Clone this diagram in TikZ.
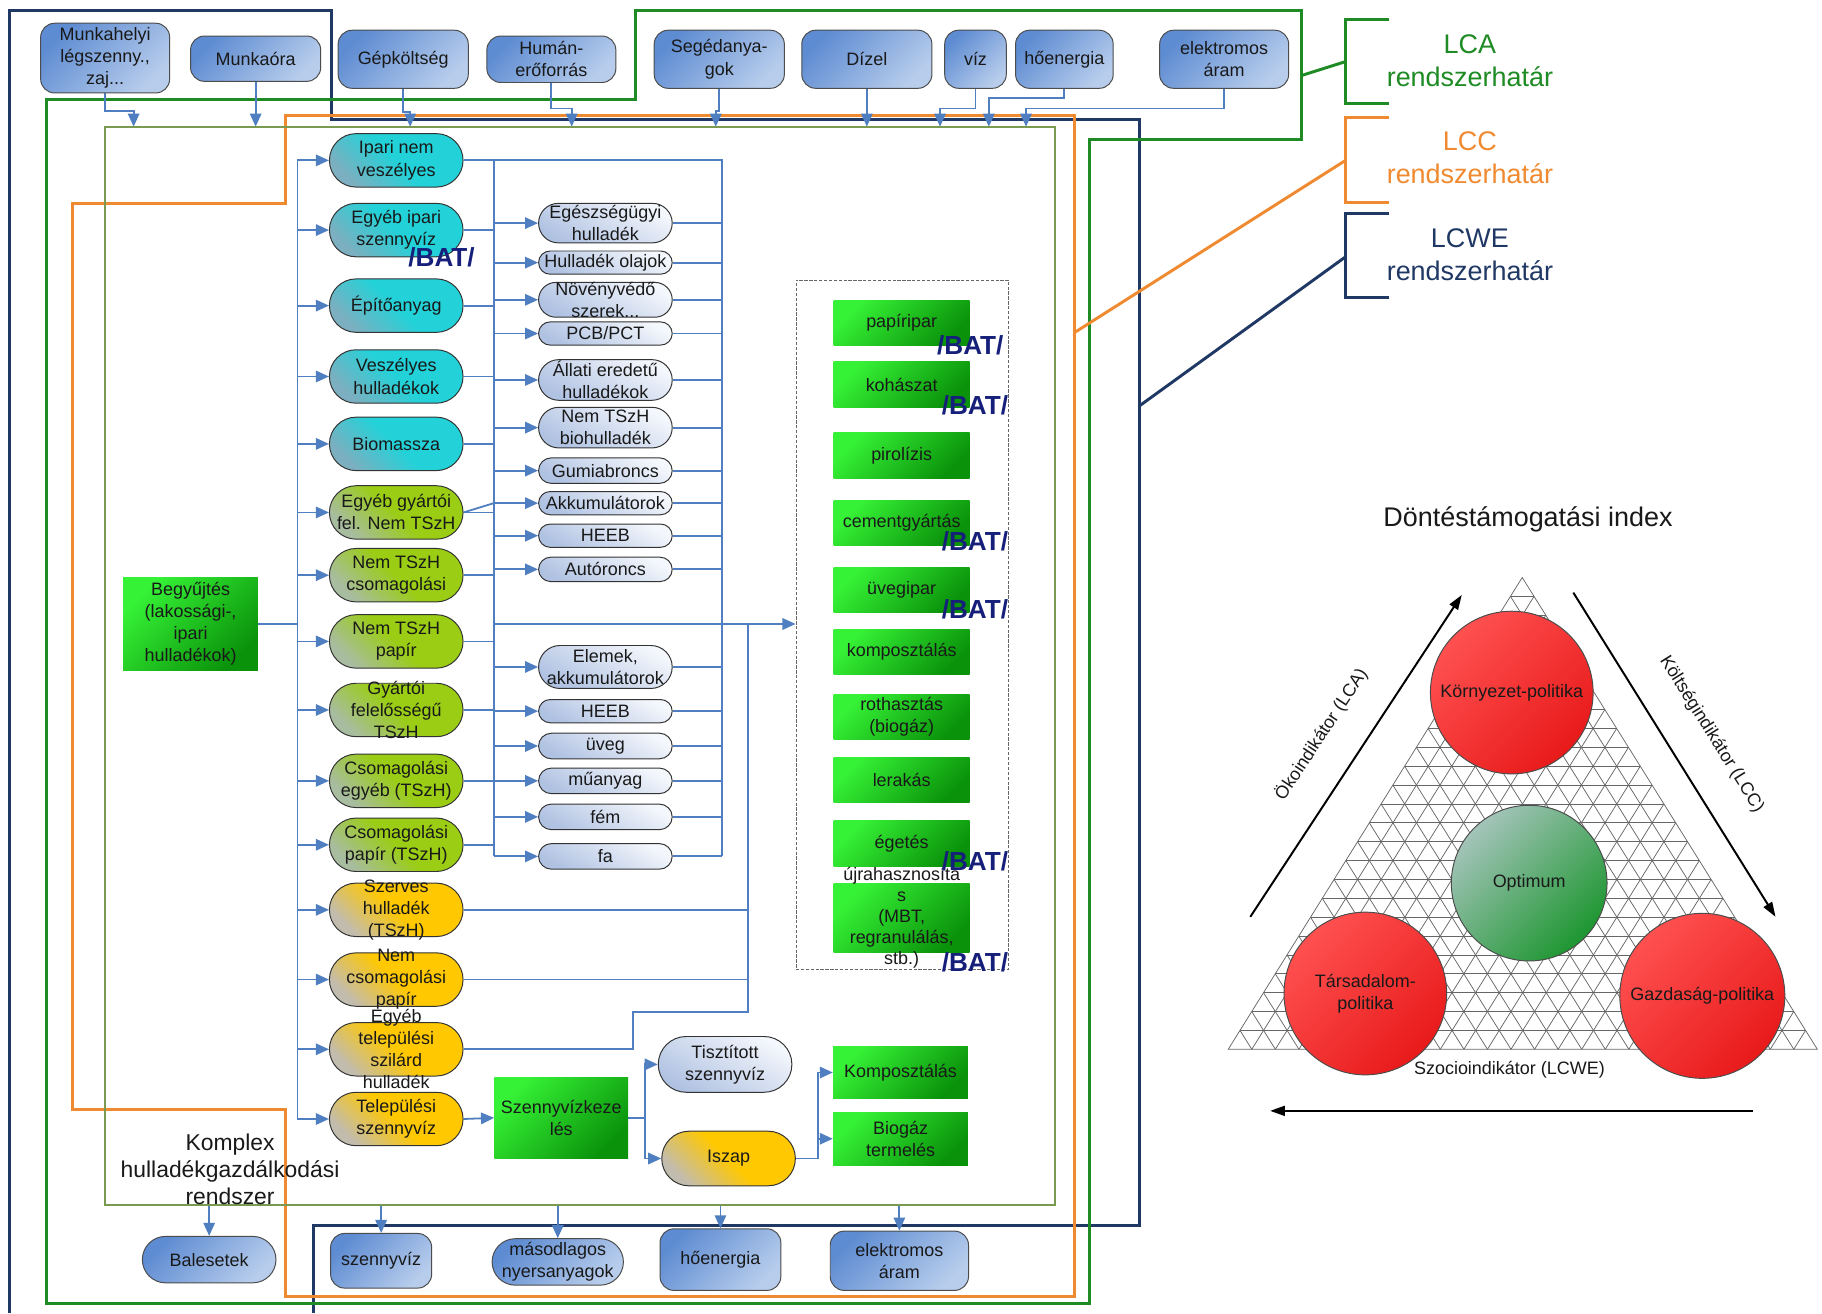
\documentclass[tikz,border=0pt]{standalone}
\usepackage{fontspec}
\setmainfont{Liberation Sans}
\usetikzlibrary{arrows.meta,backgrounds,calc}

\definecolor{lcwecol}{HTML}{1F3864}
\definecolor{lcacol}{HTML}{1E8B24}
\definecolor{lcccol}{HTML}{F08A30}
\definecolor{rendszcol}{HTML}{7A9A50}
\definecolor{flowcol}{HTML}{4F7FC0}
\definecolor{batcol}{HTML}{16207A}
\definecolor{inA}{HTML}{5E8CD2}
\definecolor{inB}{HTML}{B8CDEC}
\definecolor{cyA}{HTML}{22D2D8}
\definecolor{cyB}{HTML}{7CAFC0}
\definecolor{lgA}{HTML}{9ACD14}
\definecolor{lgB}{HTML}{A8BCA0}
\definecolor{ylA}{HTML}{FFC800}
\definecolor{ylB}{HTML}{C2BCAE}
\definecolor{lvA}{HTML}{F4F7FC}
\definecolor{lvB}{HTML}{B0C2E2}
\definecolor{prA}{HTML}{36F236}
\definecolor{prB}{HTML}{0A920A}
\definecolor{rdA}{HTML}{FF5050}
\definecolor{rdB}{HTML}{E81A1A}
\definecolor{opA}{HTML}{A4C4BA}
\definecolor{opB}{HTML}{1D9630}

\tikzset{
  sz/.style 2 args={minimum width=#1*0.25mm, minimum height=#2*0.25mm},
  inbox/.style={draw=black!70, line width=0.6pt, rounded corners=3mm, top color=inA, bottom color=inB, shading angle=45, inner sep=0pt},
  pill/.style={draw=black!80, line width=0.6pt, minimum width=115*0.25mm, minimum height=#1*0.25mm, rounded corners=#1*0.125mm, inner sep=0pt},
  cyfill/.style={top color=cyA, bottom color=cyB, middle color=cyA, shading angle=-45},
  lgfill/.style={top color=lgA, bottom color=lgB, middle color=lgA, shading angle=-45},
  ylfill/.style={top color=ylA, bottom color=ylB, middle color=ylA, shading angle=-45},
  lvfill/.style={top color=lvA, bottom color=lvB, shading angle=-30},
  procbox/.style={top color=prA, bottom color=prB, shading angle=45, minimum width=117*0.25mm, minimum height=39*0.25mm, inner sep=0pt},
  txt/.style={label={center:{#1}}},
  flow/.style={draw=flowcol, line width=1.1pt},
  arr/.style={flow, -{Triangle[length=8pt,width=7pt]}},
  bound/.style={line width=1.8pt},
  bat/.style={text=batcol, font=\bfseries\fontsize{16}{16}\selectfont},
  kor/.style={circle, draw=black!70, line width=0.6pt, minimum size=#1*0.25mm, inner sep=0pt},
  trigrid/.style={draw=black!60, line width=0.45pt},
  ind/.style={draw=black, line width=1.2pt, -{Triangle[length=9pt,width=6pt]}},
  bigtxt/.style={font=\fontsize{16.5}{20}\selectfont},
}

\begin{document}
\begin{tikzpicture}[x=0.25mm, y=-0.25mm, every node/.style={font=\fontsize{11}{13.5}\selectfont, align=center, text=black!90}]
    \useasboundingbox (0,0) rectangle (1568,1130);

    \node at (90.5,50)   (munkahely) [inbox, sz={111}{60}] {Munkahelyi\\légszenny.,\\zaj...};
    \node at (220,50.5)  (munkaora)  [inbox, sz={112}{39}] {Munkaóra};
    \node at (347,51)    (gepkolts)  [inbox, sz={112}{50}] {Gépköltség};
    \node at (474.5,51)  (human)     [inbox, sz={111}{40}] {Humán-\\erőforrás};
    \node at (619,51)    (seged)     [inbox, sz={112}{50}] {Segédanya-\\gok};
    \node at (746,51)    (dizel)     [inbox, sz={112}{50}] {Dízel};
    \node at (839.5,51)  (viz)       [inbox, sz={53}{50}] {víz};
    \node at (916,51)    (hoenergia) [inbox, sz={84}{50}] {hőenergia};
    \node at (1053.5,51) (aram)      [inbox, sz={111}{50}] {elektromos\\áram};

    \node at (499,573) (rendszer) [draw=rendszcol, line width=1.2pt, sz={818}{928}, inner sep=0pt, outer sep=0pt] {};
    \node at (198,1006) (komplex) [font=\fontsize{14}{16.5}\selectfont] {Komplex\\hulladékgazdálkodási\\rendszer};
    \node at (164,537) (begyujtes) [procbox, sz={116}{80}] {Begyűjtés\\(lakossági-,\\ipari\\hulladékok)};

    \node at (341,138) (w1)  [pill=46, cyfill, txt={Ipari nem\\veszélyes}] {};
    \node at (341,198) (w2)  [pill=46, cyfill, txt={Egyéb ipari\\szennyvíz}] {};
    \node at (341,263) (w3)  [pill=46, cyfill, txt={Építőanyag}] {};
    \node at (341,324) (w4)  [pill=46, cyfill, txt={Veszélyes\\hulladékok}] {};
    \node at (341,382) (w5)  [pill=46, cyfill, txt={Biomassza}] {};
    \node at (341,441) (w6)  [pill=46, lgfill, txt={Egyéb gyártói\\fel. Nem TSzH}] {};
    \node at (341,495) (w7)  [pill=46, lgfill, txt={Nem TSzH\\csomagolási}] {};
    \node at (341,552) (w8)  [pill=46, lgfill, txt={Nem TSzH\\papír}] {};
    \node at (341,611) (w9)  [pill=46, lgfill, txt={Gyártói\\felelősségű\\TSzH}] {};
    \node at (341,672) (w10) [pill=46, lgfill, txt={Csomagolási\\egyéb (TSzH)}] {};
    \node at (341,727) (w11) [pill=46, lgfill, txt={Csomagolási\\papír (TSzH)}] {};
    \node at (341,783) (w12) [pill=46, ylfill, txt={Szerves\\hulladék\\(TSzH)}] {};
    \node at (341,843) (w13) [pill=46, ylfill, txt={Nem\\csomagolási\\papír}] {};
    \node at (341,903) (w14) [pill=46, ylfill, txt={Egyéb\\települési\\szilárd\\hulladék}] {};
    \node at (341,963) (w15) [pill=46, ylfill, txt={Települési\\szennyvíz}] {};

    \node at (521,192) (s1)  [pill=34, lvfill, txt={Egészségügyi\\hulladék}] {};
    \node at (521,226) (s2)  [pill=20, lvfill, txt={Hulladék olajok}] {};
    \node at (521,258) (s3)  [pill=30, lvfill, txt={Növényvédő\\szerek...}] {};
    \node at (521,287) (s4)  [pill=20, lvfill, txt={PCB/PCT}] {};
    \node at (521,327) (s5)  [pill=35, lvfill, txt={Állati eredetű\\hulladékok}] {};
    \node at (521,368) (s6)  [pill=35, lvfill, txt={Nem TSzH\\biohulladék}] {};
    \node at (521,405) (s7)  [pill=22, lvfill, txt={Gumiabroncs}] {};
    \node at (521,433) (s8)  [pill=20, lvfill, txt={Akkumulátorok}] {};
    \node at (521,461) (s9)  [pill=20, lvfill, txt={HEEB}] {};
    \node at (521,490) (s10) [pill=21, lvfill, txt={Autóroncs}] {};
    \node at (521,574) (s11) [pill=37, lvfill, txt={Elemek,\\akkumulátorok}] {};
    \node at (521,612) (s12) [pill=20, lvfill, txt={HEEB}] {};
    \node at (521,642) (s13) [pill=22, lvfill, txt={üveg}] {};
    \node at (521,672) (s14) [pill=22, lvfill, txt={műanyag}] {};
    \node at (521,703) (s15) [pill=22, lvfill, txt={fém}] {};
    \node at (521,737) (s16) [pill=22, lvfill, txt={fa}] {};

    \node at (776.5,537.5) (celok) [draw=black!60, dash pattern=on 2pt off 1pt, line width=0.5pt, sz={183}{593}, inner sep=0pt] {};
    \node at (776,278) (p1)  [procbox] {papíripar};
    \node at (776,331) (p2)  [procbox] {kohászat};
    \node at (776,392) (p3)  [procbox] {pirolízis};
    \node at (776,450) (p4)  [procbox] {cementgyártás};
    \node at (776,508) (p5)  [procbox] {üvegipar};
    \node at (776,561) (p6)  [procbox] {komposztálás};
    \node at (776,617) (p7)  [procbox] {rothasztás\\(biogáz)};
    \node at (776,671) (p8)  [procbox] {lerakás};
    \node at (776,726) (p9)  [procbox] {égetés};
    \node at (776,790) (p10) [procbox, sz={117}{59}, label={[font=\fontsize{11}{12.8}\selectfont]center:{újrahasznosíta\\s\\(MBT,\\regranulálás,\\stb.)}}] {};

    \node at (483,962) (szkezeles)  [procbox, sz={115}{70}] {Szennyvízkeze\\lés};
    \node at (624,916) (tisztitott) [pill=48, lvfill, txt={Tisztított\\szennyvíz}] {};
    \node at (627,997) (iszap)      [pill=47, ylfill, txt={Iszap}] {};
    \node at (775,923) (komposzt)   [procbox, sz={116}{44}] {Komposztálás};
    \node at (775,980) (biogaz)     [procbox, sz={116}{46}] {Biogáz\\termelés};

    \node at (180,1084) (balesetek)  [inbox, rounded corners=5mm, sz={115}{40}] {Balesetek};
    \node at (328,1085) (szennyviz)  [inbox, sz={87}{47}] {szennyvíz};
    \node at (480,1086) (masodlagos) [inbox, rounded corners=5mm, sz={113}{40}] {másodlagos\\nyersanyagok};
    \node at (620,1084) (hoenergia2) [inbox, sz={104}{53}] {hőenergia};
    \node at (774,1085) (aram2)      [inbox, sz={119}{51}] {elektromos\\áram};

    \node at (380,221) (bat1) [bat] {/BAT/};
    \node at (835,297) (bat2) [bat] {/BAT/};
    \node at (839,349) (bat3) [bat] {/BAT/};
    \node at (839,466) (bat4) [bat] {/BAT/};
    \node at (839,524) (bat5) [bat] {/BAT/};
    \node at (839,741) (bat6) [bat] {/BAT/};
    \node at (839,828) (bat7) [bat] {/BAT/};

    \node at (1265,52)  (lcanev)  [bigtxt, text=lcacol] {LCA\\rendszerhatár};
    \node at (1265,136) (lccnev)  [bigtxt, text=lcccol] {LCC\\rendszerhatár};
    \node at (1265,219) (lcwenev) [bigtxt, text=lcwecol] {LCWE\\rendszerhatár};

    \node at (1315,447) (dontes) [bigtxt] {Döntéstámogatási index};
    \coordinate (tA) at (1310,497);
    \coordinate (tL) at (1057,903);
    \coordinate (tR) at (1564,903);
    \node at (1301,596) (kornyezet)  [kor=140, top color=rdA, bottom color=rdB, shading angle=45] {Környezet-politika};
    \node at (1316,760) (optimum)    [kor=134, top color=opA, bottom color=opB, shading angle=45] {Optimum};
    \node at (1175,855) (tarsadalom) [kor=140, top color=rdA, bottom color=rdB, shading angle=45] {Társadalom-\\politika};
    \node at (1465,857) (gazdasag)   [kor=142, top color=rdA, bottom color=rdB, shading angle=45] {Gazdaság-politika};

    \coordinate (okoA) at (1076,789);
    \coordinate (okoB) at (1258,512);
    \coordinate (koltA) at (1354,510);
    \coordinate (koltB) at (1528,789);
    \coordinate (szocA) at (1509,956);
    \coordinate (szocB) at (1093,956);
    \draw[ind] (okoA) -- (okoB);
    \draw[ind] (koltA) -- (koltB);
    \draw[ind] (szocA) -- (szocB);
    \node at (1137,632) (okolab)  [rotate=56.7] {Ökoindikátor (LCA)};
    \node at (1473,632) (koltlab) [rotate=-58] {Költségindikátor (LCC)};
    \node at (1299,921) (szoclab) {Szocioindikátor (LCWE)};

    \coordinate (sp) at (256,0);
    \coordinate (lb) at (425,0);
    \coordinate (rb) at (621,0);
    \coordinate (kb) at (644,0);
    \coordinate (gyujto) at (545,871);
    \coordinate (szelag) at (555,962);
    \coordinate (iszelag) at (704,997);
    \coordinate (e1) at (115,109);
    \coordinate (e3) at (353,109);
    \coordinate (e4) at (492,109);
    \coordinate (e5) at (616,109);
    \coordinate (e7) at (809,109);
    \coordinate (e8) at (851,109);
    \coordinate (e9) at (883,109);
    \coordinate (lcapont) at (1120,65);
    \coordinate (lcckez) at (1158,53);
    \coordinate (lccpont) at (925,286);
    \coordinate (lccveg) at (1158,138);
    \coordinate (lcwepont) at (981,349);
    \coordinate (lcweveg) at (1158,221);

    \begin{scope}[on background layer]
        \fill[white] (0,0) rectangle (1568,1130);
        \foreach \i in {1,...,24} {
            \pgfmathsetmacro{\q}{\i/25}
            \draw[trigrid] ($(tL)!\q!(tA)$) -- ($(tR)!\q!(tA)$);
            \draw[trigrid] ($(tL)!\q!(tR)$) -- ($(tA)!\q!(tR)$);
            \draw[trigrid] ($(tL)!\q!(tR)$) -- ($(tL)!\q!(tA)$);
        }
        \draw[trigrid] (tA) -- (tL) -- (tR) -- cycle;

        \draw[bound, lcwecol] (8,1130) -- (8,9) -- (285,9) -- (285,103) -- (981,103) -- (981,1055) -- (270,1055) -- (270,1130);
        \draw[bound, lcacol] (40,86) -- (547,86) -- (547,9) -- (1120,9) -- (1120,120) -- (938,120) -- (938,1122) -- (40,1122) -- cycle;
        \draw[bound, lcccol] (246,99) -- (925,99) -- (925,1116) -- (246,1116) -- (246,955) -- (62,955) -- (62,175) -- (246,175) -- cycle;
        \draw[bound, lcacol] (1195,17) -- (1158,17) -- (1158,89) -- (1195,89);
        \draw[bound, lcccol] (1195,101) -- (1158,101) -- (1158,174) -- (1195,174);
        \draw[bound, lcwecol] (1195,184) -- (1158,184) -- (1158,256) -- (1195,256);
        \draw[bound, lcacol] (lcapont) -- (lcckez);
        \draw[bound, lcccol] (lccpont) -- (lccveg);
        \draw[bound, lcwecol] (lcwepont) -- (lcweveg);

        \draw[arr] (munkahely.south) -- ++(0,15) -| (e1);
        \draw[arr] (munkaora.south) -- (munkaora.south |- rendszer.north);
        \draw[arr] (gepkolts.south) -- ++(0,20) -| (e3);
        \draw[arr] (human.south) -- ++(0,22) -| (e4);
        \draw[arr] (seged.south) -- ++(0,19) -| (e5);
        \draw[arr] (dizel.south) -- (dizel.south |- rendszer.north);
        \draw[arr] (viz.south) -- ++(0,17) -| (e7);
        \draw[arr] (hoenergia.south) -- ++(0,8) -| (e8);
        \draw[arr] (aram.south) -- ++(0,17) -| (e9);

        \draw[flow] (w1.west -| sp) -- (w15.west -| sp);
        \draw[flow] (begyujtes.east) -- (begyujtes.east -| sp);
        \foreach \i in {1,...,15}
            \draw[arr] (w\i.west -| sp) -- (w\i.west);
        \draw[flow] (w1.east) -- (w1.east -| rb) -- (s16.east -| rb);
        \draw[flow] (w1.east -| lb) -- (s16.west -| lb);
        \foreach \i in {2,...,11}
            \draw[flow] (w\i.east) -- (w\i.east -| lb);
        \draw[flow] (w6.east) -- (s8.west -| lb);
        \foreach \i in {1,...,16} {
            \draw[arr] (s\i.west -| lb) -- (s\i.west);
            \draw[flow] (s\i.east) -- (s\i.east -| rb);
        }
        \draw[arr] (begyujtes.east -| lb) -- (begyujtes.east -| celok.west);
        \draw[flow] (w12.east) -- (w12.east -| kb);
        \draw[flow] (w13.east) -- (w13.east -| kb);
        \draw[flow] (w14.east) -| (gyujto) -- (gyujto -| kb) -- (begyujtes.east -| kb);
        \draw[arr] (w15.east) -- (szkezeles.west);
        \draw[flow] (szkezeles.east) -- (szelag);
        \draw[arr] (szelag) |- (tisztitott.west);
        \draw[arr] (szelag) |- (iszap.west);
        \draw[flow] (iszap.east) -- (iszelag);
        \draw[arr] (iszelag) |- (komposzt.west);
        \draw[arr] (iszelag) |- (biogaz.west);
        \foreach \n in {balesetek, szennyviz, masodlagos, hoenergia2, aram2}
            \draw[arr] (\n.north |- rendszer.south) -- (\n.north);
    \end{scope}
\end{tikzpicture}
\end{document}
